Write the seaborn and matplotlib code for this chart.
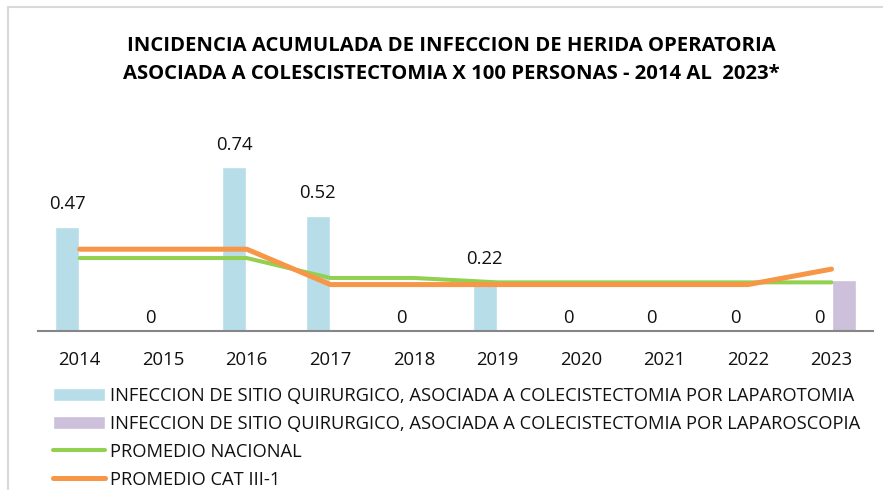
import numpy as np
import pandas as pd
import matplotlib
matplotlib.use("Agg")
import matplotlib.pyplot as plt
import seaborn as sns
from matplotlib.patches import Rectangle

# Data
years = ["2014", "2015", "2016", "2017", "2018", "2019", "2020", "2021", "2022", "2023"]
laparotomia = [0.47, 0, 0.74, 0.52, 0, 0.22, 0, 0, 0, 0]
laparoscopia = [0, 0, 0, 0, 0, 0, 0, 0, 0, 0.23]
promedio_nacional = [0.33, 0.33, 0.33, 0.24, 0.24, 0.22, 0.22, 0.22, 0.22, 0.22]
promedio_cat = [0.37, 0.37, 0.37, 0.21, 0.21, 0.21, 0.21, 0.21, 0.21, 0.28]

lbl_lapt = "INFECCION DE SITIO QUIRURGICO, ASOCIADA A COLECISTECTOMIA POR LAPAROTOMIA"
lbl_laps = "INFECCION DE SITIO QUIRURGICO, ASOCIADA A COLECISTECTOMIA POR LAPAROSCOPIA"
lbl_nac = "PROMEDIO NACIONAL"
lbl_cat = "PROMEDIO CAT III-1"

sns.set_style("white")
plt.rcParams["font.family"] = ["Open Sans", "DejaVu Sans"]

df = pd.DataFrame({
    "year": years * 2,
    "valor": laparotomia + laparoscopia,
    "serie": [lbl_lapt] * len(years) + [lbl_laps] * len(years),
})

fig = plt.figure(figsize=(8.83, 4.9), dpi=100)
ax = fig.add_axes([0.043, 0.3245, 0.946, 0.406])

sns.barplot(data=df, x="year", y="valor", hue="serie", order=years,
            hue_order=[lbl_lapt, lbl_laps],
            palette=["#b7dde8", "#ccc0da"], saturation=1, width=0.6, gap=0.06,
            legend=False, ax=ax)

pos = np.arange(len(years))
sns.lineplot(x=pos, y=promedio_nacional, color="#92d050", linewidth=2.9, ax=ax)
sns.lineplot(x=pos, y=promedio_cat, color="#f79646", linewidth=3.6, ax=ax)

# data labels for the laparotomia bars
for bar, v in zip(ax.containers[0], laparotomia):
    off = 9.5 if v == 0 else 16.5
    ax.annotate(f"{v:g}", (bar.get_x() + bar.get_width() / 2, bar.get_height()),
                xytext=(0, off), textcoords="offset points",
                ha="center", va="center", fontsize=13.3, color="#111111")

ax.set_xlim(-0.5, len(years) - 0.5)
ax.set_ylim(0, 0.9)
ax.set_xlabel("")
ax.set_ylabel("")
ax.set_yticks([])
for s in ["left", "right", "top"]:
    ax.spines[s].set_visible(False)
ax.spines["bottom"].set_color("#868686")
ax.spines["bottom"].set_linewidth(1.5)
ax.tick_params(axis="x", length=0, pad=14.5, labelsize=13.3, labelcolor="#111111")

fig.text(0.511, 0.878, "INCIDENCIA ACUMULADA DE INFECCION DE HERIDA OPERATORIA\n"
         "ASOCIADA A COLESCISTECTOMIA X 100 PERSONAS - 2014 AL  2023*",
         ha="center", va="center", fontsize=14.6, fontweight="bold",
         linespacing=1.55, color="#000000")

# chart frame (cropped at right and bottom)
fig.patches.append(Rectangle((8 / 883, -0.1), 1.2, 1 - 7 / 490 + 0.1,
                             transform=fig.transFigure, fill=False,
                             edgecolor="#d9d9d9", linewidth=1.5))

handles = [
    Rectangle((0, 0), 1, 1, facecolor="#b7dde8"),
    Rectangle((0, 0), 1, 1, facecolor="#ccc0da"),
    plt.Line2D([], [], color="#92d050", linewidth=2.9),
    plt.Line2D([], [], color="#f79646", linewidth=3.6),
]
fig.legend(handles, [lbl_lapt, lbl_laps, lbl_nac, lbl_cat],
           loc="upper left", bbox_to_anchor=(0.060, 0.211), frameon=False,
           fontsize=13.2, handlelength=2.84, handleheight=0.75, handletextpad=0.27,
           labelspacing=0.55, borderaxespad=0, borderpad=0, labelcolor="#111111")

fig.savefig("out.png", dpi=100)
